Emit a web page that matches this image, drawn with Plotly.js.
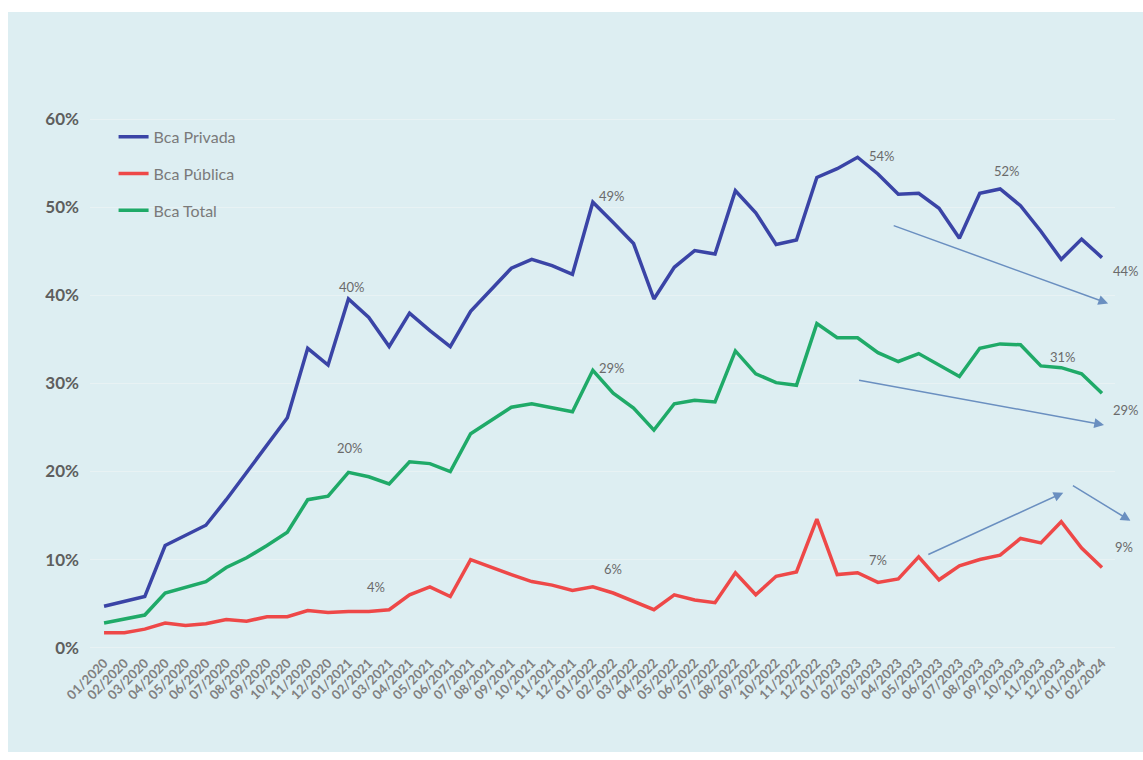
<!DOCTYPE html>
<html>
<head>
<meta charset="utf-8">
<script src="https://cdn.plot.ly/plotly-3.0.1.min.js"></script>
<style>
  html, body { margin: 0; padding: 0; background: #ffffff; }
  #wrap { position: relative; width: 1143px; height: 760px; overflow: hidden; background: #ffffff; }
  #chart { position: absolute; left: 8px; top: 12px; width: 1135px; height: 740px; }
</style>
</head>
<body>
<div id="wrap"><div id="chart"></div></div>
<script>
// ---- DATA ----
const months = [
  "01/2020","02/2020","03/2020","04/2020","05/2020","06/2020","07/2020","08/2020","09/2020","10/2020","11/2020","12/2020",
  "01/2021","02/2021","03/2021","04/2021","05/2021","06/2021","07/2021","08/2021","09/2021","10/2021","11/2021","12/2021",
  "01/2022","02/2022","03/2022","04/2022","05/2022","06/2022","07/2022","08/2022","09/2022","10/2022","11/2022","12/2022",
  "01/2023","02/2023","03/2023","04/2023","05/2023","06/2023","07/2023","08/2023","09/2023","10/2023","11/2023","12/2023",
  "01/2024","02/2024"
];
const bcaPrivada = [4.7, 5.2, 5.8, 11.6, 12.8, 13.9, 16.8, 19.9, 22.9, 26.1, 34.0, 32.1, 39.6, 37.5, 34.2, 38.0, 36.0, 34.2, 38.2, 40.6, 43.1, 44.1, 43.4, 42.4, 50.6, 48.3, 45.9, 39.6, 43.2, 45.1, 44.7, 51.9, 49.4, 45.8, 46.3, 53.4, 54.4, 55.7, 53.8, 51.5, 51.6, 49.9, 46.5, 51.6, 52.1, 50.2, 47.3, 44.1, 46.4, 44.3];
const bcaPublica = [1.7, 1.7, 2.1, 2.8, 2.5, 2.7, 3.2, 3.0, 3.5, 3.5, 4.2, 4.0, 4.1, 4.1, 4.3, 6.0, 6.9, 5.8, 10.0, 9.1, 8.3, 7.5, 7.1, 6.5, 6.9, 6.2, 5.2, 4.3, 6.0, 5.4, 5.1, 8.5, 6.0, 8.1, 8.6, 14.6, 8.3, 8.5, 7.4, 7.8, 10.3, 7.7, 9.3, 10.0, 10.5, 12.4, 11.9, 14.3, 11.3, 9.1];
const bcaTotal = [2.8, 3.2, 3.7, 6.2, 6.8, 7.5, 9.1, 10.2, 11.6, 13.1, 16.8, 17.2, 19.9, 19.4, 18.6, 21.1, 20.9, 20.0, 24.3, 25.8, 27.3, 27.7, 27.3, 26.8, 31.5, 28.9, 27.2, 24.7, 27.7, 28.1, 27.9, 33.7, 31.1, 30.1, 29.8, 36.8, 35.2, 35.2, 33.5, 32.5, 33.4, 32.1, 30.8, 34.0, 34.5, 34.4, 32.0, 31.8, 31.1, 28.9];
const seriesNames = ["Bca Privada", "Bca Pública", "Bca Total"];
const yTickVals = [0, 10, 20, 30, 40, 50, 60];

// value labels: [series, month index, text]
const valueLabels = [
  ["priv", 12, "40%"], ["tot", 12, "20%"], ["pub", 13, "4%"],
  ["priv", 24, "49%"], ["tot", 24, "29%"], ["pub", 25, "6%"],
  ["priv", 37, "54%"], ["priv", 44, "52%"], ["tot", 47, "31%"], ["pub", 38, "7%"],
  ["priv", 49, "44%"], ["tot", 49, "29%"], ["pub", 49, "9%"]
];

// ---- STYLE ----
const colors = { priv: "#3a44a6", pub: "#ee4848", tot: "#1faa68" };
const seriesData = { priv: bcaPrivada, pub: bcaPublica, tot: bcaTotal };
const font = "Lato, 'Open Sans', sans-serif";

const idx = months.map((m, i) => i);
const traces = [
  { key: "priv", name: seriesNames[0], y: bcaPrivada },
  { key: "pub", name: seriesNames[1], y: bcaPublica },
  { key: "tot", name: seriesNames[2], y: bcaTotal }
].map(s => ({
  type: "scatter", mode: "lines", x: idx, y: s.y, name: s.name,
  legendgroup: s.key,
  line: { color: colors[s.key], width: 3.5 },
  hoverinfo: "x+y"
}));

// label offsets (pixels) relative to their data point
const labelShift = {
  "priv-12": [4, 12], "tot-12": [2, 24], "pub-13": [7, 25],
  "priv-24": [19, 6], "tot-24": [19, 2], "pub-25": [0, 24],
  "priv-37": [24, 1], "priv-44": [7, 18], "tot-47": [2, 11], "pub-38": [0, 22],
  "priv-49": [24, -13], "tot-49": [24, -17], "pub-49": [22, 20]
};
const annotations = valueLabels.map(([k, i, t]) => {
  const sh = labelShift[k + "-" + i] || [0, 0];
  return {
    x: i, y: seriesData[k][i], xref: "x", yref: "y", text: t, showarrow: false,
    xshift: sh[0], yshift: sh[1],
    font: { family: font, size: 13, color: "#6a6a6a" }
  };
});

// trend arrows (data coordinates: month index, percent)
const arrows = [
  { from: [38.7, 48.0], to: [49.3, 39.1] },
  { from: [37.0, 30.4], to: [49.1, 25.3] },
  { from: [40.4, 10.5], to: [47.1, 17.6] },
  { from: [47.5, 18.5], to: [50.4, 14.4] }
];
arrows.forEach(a => annotations.push({
  x: a.to[0], y: a.to[1], ax: a.from[0], ay: a.from[1],
  xref: "x", yref: "y", axref: "x", ayref: "y",
  showarrow: true, arrowhead: 2, arrowsize: 1.3, arrowwidth: 1.5,
  arrowcolor: "#6a8fc0", text: ""
}));

const layout = {
  width: 1135, height: 740,
  paper_bgcolor: "#ddeef2", plot_bgcolor: "#ddeef2",
  margin: { l: 82, r: 28, t: 103, b: 100 },
  font: { family: font, color: "#666666" },
  showlegend: true,
  legend: {
    x: 0.023, y: 0.991, xanchor: "left", yanchor: "top",
    bgcolor: "rgba(0,0,0,0)", tracegroupgap: 13,
    font: { family: font, size: 16, color: "#7a7a7a" }
  },
  xaxis: {
    type: "linear", range: [-0.69, 49.64],
    tickmode: "array", tickvals: idx, ticktext: months,
    tickangle: -45, tickfont: { family: font, size: 13, color: "#808080", weight: "bold" },
    showgrid: false, zeroline: false, showline: false, ticks: ""
  },
  yaxis: {
    range: [-0.5, 60.5], tickmode: "array", tickvals: yTickVals,
    ticktext: yTickVals.map(v => v + "%"),
    tickfont: { family: font, size: 17, color: "#5e5e5e", weight: "bold" },
    ticklabelstandoff: 10,
    showgrid: true, gridcolor: "#e8f2f4", gridwidth: 1.5,
    zeroline: false, showline: false, ticks: ""
  },
  annotations: annotations
};

Plotly.newPlot("chart", traces, layout, { displayModeBar: false, staticPlot: true });
</script>
</body>
</html>
